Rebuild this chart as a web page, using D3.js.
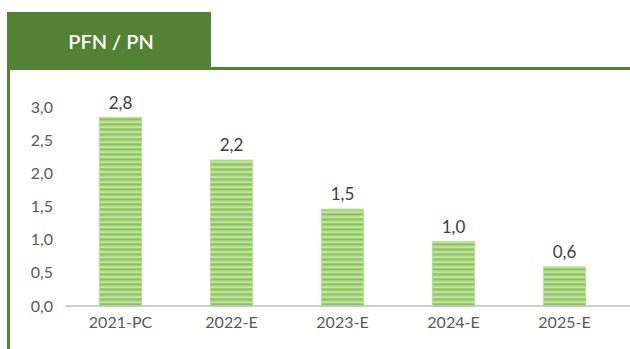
<!DOCTYPE html>
<html>
<head>
<meta charset="utf-8">
<script src="https://cdn.jsdelivr.net/npm/d3@7"></script>
<style>
  body { margin: 0; background: #fff; }
  svg { display: block; font-family: Lato, "Open Sans", sans-serif; }
</style>
</head>
<body>
<div id="chart"></div>
<script>
// data (bar heights estimated, labels rounded to one decimal)
var categories = ["2021-PC", "2022-E", "2023-E", "2024-E", "2025-E"];
var values = [2.84, 2.2, 1.46, 0.97, 0.59];
var yTicks = [0, 0.5, 1, 1.5, 2, 2.5, 3];
var title = "PFN / PN";

var W = 630, H = 349;
var green = "#548235";
var comma = function (d) { return d3.format(".1f")(d).replace(".", ","); };

var svg = d3.select("#chart").append("svg")
  .attr("width", W)
  .attr("height", H);

// striped fill for bars
var defs = svg.append("defs");
var pat = defs.append("pattern")
  .attr("id", "stripes")
  .attr("patternUnits", "userSpaceOnUse")
  .attr("width", 8)
  .attr("height", 5);
pat.append("rect").attr("width", 8).attr("height", 5).attr("fill", "#a3d376");
pat.append("rect").attr("y", 1.5).attr("width", 8).attr("height", 1.2).attr("fill", "#d2eabb");
pat.append("rect").attr("y", 3.8).attr("width", 8).attr("height", 1).attr("fill", "#84c150");

// frame: header tab, top line, left border
svg.append("rect")
  .attr("x", 7).attr("y", 12)
  .attr("width", 204).attr("height", 58)
  .attr("fill", green);
svg.append("rect")
  .attr("x", 211).attr("y", 67)
  .attr("width", W - 211).attr("height", 3)
  .attr("fill", green);
svg.append("rect")
  .attr("x", 7).attr("y", 12)
  .attr("width", 3).attr("height", H - 12)
  .attr("fill", green);

svg.append("text")
  .attr("x", 111).attr("y", 49)
  .attr("text-anchor", "middle")
  .attr("fill", "#fff")
  .style("font-size", "20px")
  .style("font-weight", "600")
  .text(title);

// scales
var x = d3.scaleBand()
  .domain(categories)
  .range([65, 620])
  .paddingInner(0.62)
  .paddingOuter(0.31);

var y = d3.scaleLinear()
  .domain([0, 3])
  .range([306, 107]);

// y axis, labels only
var yAxis = svg.append("g")
  .attr("transform", "translate(53,0)")
  .call(d3.axisLeft(y).tickValues(yTicks).tickSize(0).tickPadding(0).tickFormat(comma));
yAxis.select(".domain").remove();
yAxis.selectAll("text")
  .attr("fill", "#595959")
  .style("font-size", "16px")
  .style("font-family", "Lato, 'Open Sans', sans-serif");

// bars
svg.selectAll(".bar")
  .data(values)
  .enter()
  .append("rect")
  .attr("class", "bar")
  .attr("x", function (d, i) { return x(categories[i]); })
  .attr("y", function (d) { return y(d); })
  .attr("width", x.bandwidth())
  .attr("height", function (d) { return y(0) - y(d); })
  .attr("fill", "url(#stripes)")
  .attr("stroke", "#b5dc95")
  .attr("stroke-width", 1);

// baseline
svg.append("line")
  .attr("x1", 65).attr("x2", W)
  .attr("y1", y(0)).attr("y2", y(0))
  .attr("stroke", "#bfbfbf")
  .attr("stroke-width", 1.5);

// x axis labels
var xAxis = svg.append("g")
  .attr("transform", "translate(0," + y(0) + ")")
  .call(d3.axisBottom(x).tickSize(0).tickPadding(11));
xAxis.select(".domain").remove();
xAxis.selectAll("text")
  .attr("fill", "#595959")
  .style("font-size", "16px")
  .style("font-family", "Lato, 'Open Sans', sans-serif");

// value labels
svg.selectAll(".val")
  .data(values)
  .enter()
  .append("text")
  .attr("class", "val")
  .attr("x", function (d, i) { return x(categories[i]) + x.bandwidth() / 2; })
  .attr("y", function (d) { return y(d) - 9; })
  .attr("text-anchor", "middle")
  .attr("fill", "#404040")
  .style("font-size", "17px")
  .text(function (d) { return comma(d); });
</script>
</body>
</html>
